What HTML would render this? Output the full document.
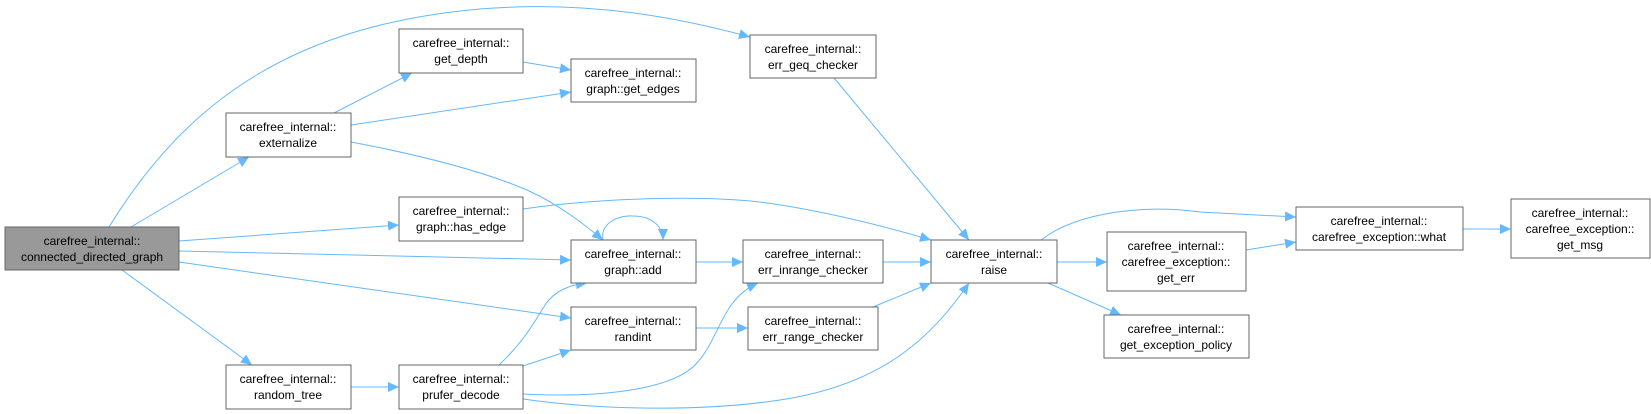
<!DOCTYPE html>
<html><head><meta charset="utf-8"><style>
html,body{margin:0;padding:0;background:#fff;}
svg{display:block;}
text{font-family:"Liberation Sans",Arial,sans-serif;font-size:12px;fill:#000;text-anchor:middle;}
.b{fill:#fff;stroke:#666;stroke-width:1;}
.e{fill:none;stroke:#63b8ff;stroke-width:1;marker-end:url(#a);}
</style></head><body>
<svg width="1651" height="414" viewBox="0 0 1651 414" xmlns="http://www.w3.org/2000/svg">
<defs><marker id="a" markerUnits="userSpaceOnUse" markerWidth="12" markerHeight="10" refX="11" refY="5" orient="auto"><path d="M0,0 L11,5 L0,10 z" fill="#63b8ff"/></marker></defs>
<path class="e" d="M109,227 C190,95 300,25 480,9 C590,0 680,18 750,37"/>
<path class="e" d="M131,227 L249,157"/>
<path class="e" d="M334,113 L412,73"/>
<path class="e" d="M523,62 L571,70"/>
<path class="e" d="M351,125 L571,92"/>
<path class="e" d="M351,142 C420,155 480,170 527,190 C560,205 585,225 603,240"/>
<path class="e" d="M603,240 C600,222 620,215 633,216 C650,216 663,225 663,240"/>
<path class="e" d="M179,241 L399,225"/>
<path class="e" d="M179,251 L571,260"/>
<path class="e" d="M179,262 L571,318"/>
<path class="e" d="M122,270 L252,365"/>
<path class="e" d="M351,387 L399,387"/>
<path class="e" d="M523,209 C600,198 700,195 760,202 C820,210 880,225 931,240"/>
<path class="e" d="M696,262 L743,262"/>
<path class="e" d="M883,262 L931,262"/>
<path class="e" d="M696,328 L748,328"/>
<path class="e" d="M873,307 L931,283"/>
<path class="e" d="M499,365 C520,345 530,330 545,305 C555,290 570,285 587,283"/>
<path class="e" d="M523,366 L571,350"/>
<path class="e" d="M523,394 C600,398 670,390 695,365 C720,340 720,300 758,283"/>
<path class="e" d="M523,399 C600,410 700,412 780,400 C880,385 930,340 969,283"/>
<path class="e" d="M834,78 L969,240"/>
<path class="e" d="M1041,240 C1080,210 1150,205 1200,212 L1296,217"/>
<path class="e" d="M1057,262 L1107,262"/>
<path class="e" d="M1048,283 L1121,315"/>
<path class="e" d="M1246,250 L1296,242"/>
<path class="e" d="M1463,229 L1511,229"/>
<rect x="5" y="227" width="174" height="43" fill="#999" stroke="#666"/>
<text x="92" y="245">carefree_internal::</text><text x="92" y="261">connected_directed_graph</text>
<rect class="b" x="226" y="113" width="125" height="44"/>
<text x="288" y="131">carefree_internal::</text><text x="288" y="147">externalize</text>
<rect class="b" x="399" y="29" width="124" height="44"/>
<text x="461" y="47">carefree_internal::</text><text x="461" y="63">get_depth</text>
<rect class="b" x="571" y="59" width="125" height="43"/>
<text x="633" y="77">carefree_internal::</text><text x="633" y="93">graph::get_edges</text>
<rect class="b" x="399" y="197" width="124" height="44"/>
<text x="461" y="215">carefree_internal::</text><text x="461" y="231">graph::has_edge</text>
<rect class="b" x="571" y="240" width="125" height="43"/>
<text x="633" y="258">carefree_internal::</text><text x="633" y="274">graph::add</text>
<rect class="b" x="571" y="307" width="125" height="43"/>
<text x="633" y="325">carefree_internal::</text><text x="633" y="341">randint</text>
<rect class="b" x="226" y="365" width="125" height="44"/>
<text x="288" y="383">carefree_internal::</text><text x="288" y="399">random_tree</text>
<rect class="b" x="399" y="365" width="124" height="44"/>
<text x="461" y="383">carefree_internal::</text><text x="461" y="399">prufer_decode</text>
<rect class="b" x="750" y="35" width="126" height="43"/>
<text x="813" y="53">carefree_internal::</text><text x="813" y="69">err_geq_checker</text>
<rect class="b" x="743" y="240" width="140" height="43"/>
<text x="813" y="258">carefree_internal::</text><text x="813" y="274">err_inrange_checker</text>
<rect class="b" x="748" y="307" width="130" height="43"/>
<text x="813" y="325">carefree_internal::</text><text x="813" y="341">err_range_checker</text>
<rect class="b" x="931" y="240" width="126" height="43"/>
<text x="994" y="258">carefree_internal::</text><text x="994" y="274">raise</text>
<rect class="b" x="1107" y="232" width="139" height="59"/>
<text x="1176" y="250">carefree_internal::</text><text x="1176" y="266">carefree_exception::</text><text x="1176" y="282">get_err</text>
<rect class="b" x="1104" y="315" width="145" height="43"/>
<text x="1176" y="333">carefree_internal::</text><text x="1176" y="349">get_exception_policy</text>
<rect class="b" x="1296" y="207" width="167" height="43"/>
<text x="1379" y="225">carefree_internal::</text><text x="1379" y="241">carefree_exception::what</text>
<rect class="b" x="1511" y="199" width="139" height="59"/>
<text x="1580" y="217">carefree_internal::</text><text x="1580" y="233">carefree_exception::</text><text x="1580" y="249">get_msg</text>
</svg>
</body></html>
